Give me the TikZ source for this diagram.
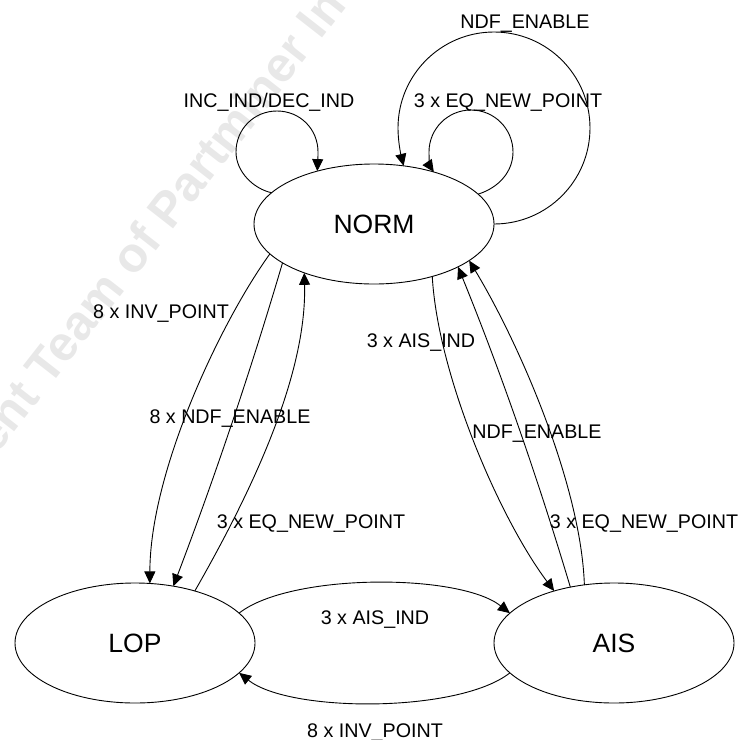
\documentclass[tikz,border=0pt]{standalone}
\usepackage{fontspec}
\setmainfont{Liberation Sans}
\usetikzlibrary{shapes.geometric,arrows.meta}
\tikzset{
  state/.style={ellipse, draw, line width=0.9pt, minimum width=240pt, minimum height=120pt,
    inner sep=0pt, outer sep=0pt, font=\fontsize{26.5}{30}\selectfont},
  lbl/.style={anchor=base, inner sep=0pt, font=\fontsize{19.7}{23}\selectfont},
  arr/.style={draw, line width=0.9pt, -{Triangle[length=12pt,width=11pt]}},
  wm/.style={rotate=52, inner sep=0pt, text=black!9, font=\fontsize{49}{55}\selectfont\bfseries}
}
\begin{document}
\begin{tikzpicture}[x=1pt,y=-1pt]
\useasboundingbox (0,0) rectangle (740,740);
\begin{scope}
\clip (0,0) rectangle (740,740);
\node[wm] (wm) at (158,220) {ent Team of Partminer In};
\end{scope}

\node[state] (NORM) at (374,224) {NORM};
\node[state] (LOP) at (135,643) {LOP};
\node[state] (AIS) at (614,643) {AIS};

% self loops
\draw[arr] (NORM.163.4) .. controls (254,189) and (236,172) .. (236,152)
  .. controls (236,129) and (254,111) .. (277,111)
  .. controls (300,111) and (318,129) .. (318,152)
  .. controls (318,160) and (317.5,165) .. (NORM.137);
\draw[arr] (NORM.0) .. controls (547,224) and (590,181) .. (590,128)
  .. controls (590,75) and (547,32) .. (494,32)
  .. controls (441,32) and (398,75) .. (398,128)
  .. controls (398,140) and (400.4,152.6) .. (NORM.63.4);
\draw[arr] (NORM.16.8) .. controls (499,187.6) and (513,171.5) .. (513,152)
  .. controls (513,128.8) and (494.2,110) .. (471,110)
  .. controls (447.8,110) and (429,128.8) .. (429,152)
  .. controls (429,158.8) and (429.8,166) .. (NORM.41.4);

% NORM <-> LOP
\draw[arr] (NORM.196.3) .. controls (222,320) and (150,470) .. (LOP.76);
\draw[arr] (NORM.203.2) .. controls (250.5,371.6) and (214.1,479) .. (LOP.56);
\draw[arr] (LOP.41.5) .. controls (248,498) and (307,378) .. (NORM.215);

% NORM <-> AIS
\draw[arr] (NORM.318.6) .. controls (438,376) and (500,519) .. (AIS.139.1);
\draw[arr] (AIS.128.8) .. controls (537.7,478) and (500.7,371.7) .. (NORM.333);
\draw[arr] (AIS.117.3) .. controls (581,485) and (519,343) .. (NORM.339);

% LOP <-> AIS
\draw[arr] (LOP.16.1) .. controls (290,573) and (459,573) .. (AIS.164.4);
\draw[arr] (AIS.196.9) .. controls (459,713) and (290,713) .. (LOP.344.2);

% labels
\node[lbl] (l1) at (525,28) {NDF\_ENABLE};
\node[lbl] (l2) at (508,107) {3 x EQ\_NEW\_POINT};
\node[lbl] (l3) at (269,107) {INC\_IND/DEC\_IND};
\node[lbl] (l4) at (161,318) {8 x INV\_POINT};
\node[lbl] (l5) at (230,423) {8 x NDF\_ENABLE};
\node[lbl] (l6) at (311,528) {3 x EQ\_NEW\_POINT};
\node[lbl] (l7) at (421,347) {3 x AIS\_IND};
\node[lbl] (l8) at (537,438) {NDF\_ENABLE};
\node[lbl] (l9) at (644,528) {3 x EQ\_NEW\_POINT};
\node[lbl] (l10) at (375,624) {3 x AIS\_IND};
\node[lbl] (l11) at (375,737) {8 x INV\_POINT};
\end{tikzpicture}
\end{document}
